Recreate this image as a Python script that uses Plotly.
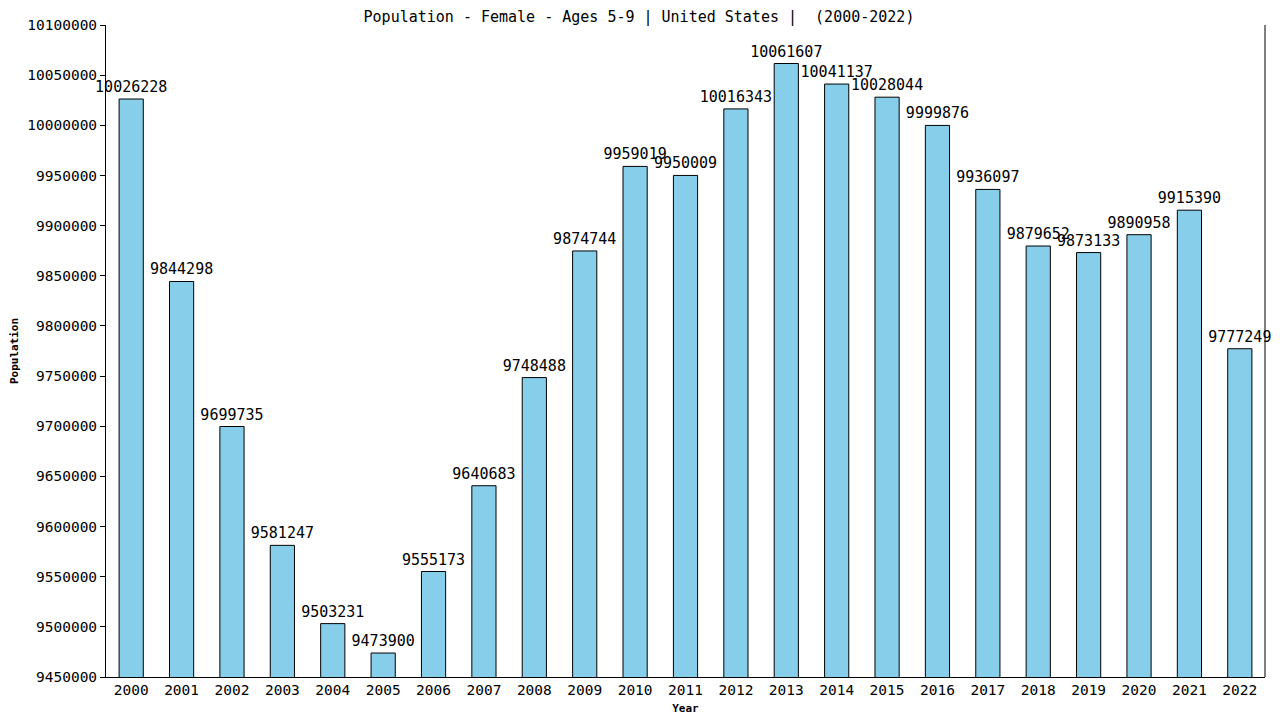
import plotly.graph_objects as go

# Données
years = [str(y) for y in range(2000, 2023)]
population = [
    10026228, 9844298, 9699735, 9581247, 9503231, 9473900, 9555173, 9640683,
    9748488, 9874744, 9959019, 9950009, 10016343, 10061607, 10041137, 10028044,
    9999876, 9936097, 9879652, 9873133, 9890958, 9915390, 9777249,
]
y_ticks = list(range(9450000, 10100001, 50000))

FONT = "DejaVu Sans Mono"

fig = go.Figure()
fig.add_trace(go.Bar(
    x=years,
    y=population,
    width=0.48,
    marker=dict(color="#87CEEB", line=dict(color="black", width=1)),
    text=[str(v) for v in population],
    textposition="outside",
    constraintext="none",
    textfont=dict(family=FONT, size=15, color="black"),
    cliponaxis=False,
))

# la page html ajoute une marge de 8px autour de la figure
fig.update_layout(
    width=1280,
    height=720,
    margin=dict(l=98, r=23, t=17, b=51, autoexpand=False),
    plot_bgcolor="white",
    paper_bgcolor="white",
    showlegend=False,
    title=dict(
        text="Population - Female - Ages 5-9 | United States |  (2000-2022)",
        x=631 / 1280, xanchor="center", y=1 - 9 / 720, yanchor="middle",
        font=dict(family=FONT, size=15, color="black"),
    ),
)

fig.update_xaxes(
    type="category",
    range=[-0.5, 22.5],
    automargin=False,
    showline=True, linecolor="black", linewidth=1,
    ticks="",
    tickfont=dict(family=FONT, size=14.5, color="black"),
    title=dict(text="<b>Year</b>", font=dict(family=FONT, size=11, color="black"), standoff=6),
    showgrid=False,
)

fig.update_yaxes(
    range=[9450000, 10100000],
    automargin=False,
    tickvals=y_ticks,
    ticktext=[str(v) for v in y_ticks],
    showline=True, linecolor="black", linewidth=1,
    ticks="outside", ticklen=5, tickcolor="black",
    tickfont=dict(family=FONT, size=14.5, color="black"),
    title=dict(text="<b>Population</b>", font=dict(family=FONT, size=11, color="black"), standoff=14),
    showgrid=False,
    zeroline=False,
)

# ligne verticale à droite du cadre
fig.add_shape(type="line", xref="paper", yref="paper", x0=1, x1=1, y0=0, y1=1,
              line=dict(color="black", width=1))

fig.write_html("out.html")
